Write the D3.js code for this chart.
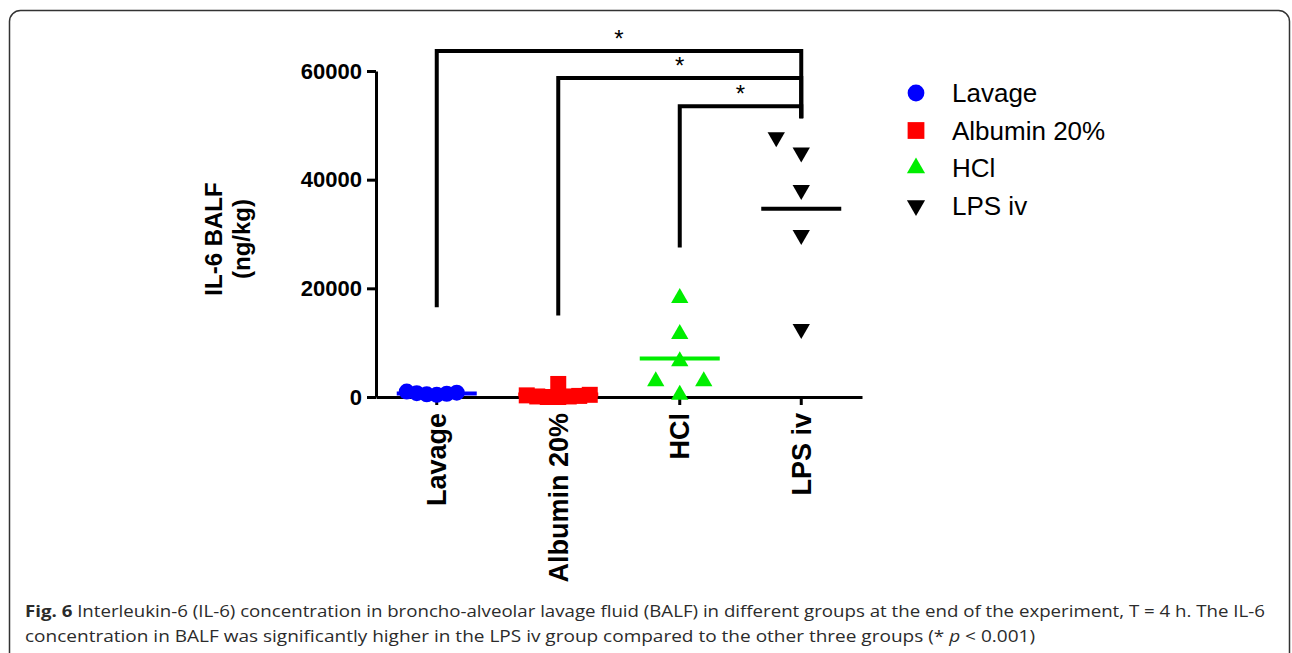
<!DOCTYPE html>
<html>
<head>
<meta charset="utf-8">
<script src="https://cdn.jsdelivr.net/npm/d3@7"></script>
<style>
  body { margin: 0; background: #fff; }
  svg { display: block; }
</style>
</head>
<body>
<div id="chart"></div>
<script>
// groups and individual values (IL-6 in BALF, ng/kg)
const groups = ["Lavage", "Albumin 20%", "HCl", "LPS iv"];
const lavageVals = [600, 800, 400, 1000, 500, 700];
const albuminVals = [0, 100, 300, 200, 0, 400, 100, 2400];
const hclVals = [400, 2900, 2900, 6600, 11600, 18200];
const lpsVals = [12500, 29800, 38100, 45000, 47800];
const yTicks = [0, 20000, 40000, 60000];

// significance brackets (all against LPS iv)
const bracketFrom = ["Lavage", "Albumin 20%", "HCl"];
const bracketTop = [63700, 58700, 53500];
const bracketLeftEnd = [16500, 15000, 27500];
const bracketRightEnd = 51300;
const bracketLabel = ["*", "*", "*"];

const captionLine1 = " Interleukin-6 (IL-6) concentration in broncho-alveolar lavage fluid (BALF) in different groups at the end of the experiment, T = 4 h. The IL-6";
const captionLine2a = "concentration in BALF was significantly higher in the LPS iv group compared to the other three groups (* ";
const captionLine2b = " < 0.001)";

const values = [lavageVals, albuminVals, hclVals, lpsVals];

// marker styling per group
const styles = [
  {color: "#0000ff", type: d3.symbolCircle, size: 201, rot: 0, step: 10, minDy: 16},
  {color: "#ff0000", type: d3.symbolSquare, size: 256, rot: 0, step: 10.5, minDy: 10},
  {color: "#00ee00", type: d3.symbolTriangle, size: 130, rot: 0, step: 24, minDy: 17},
  {color: "#000000", type: d3.symbolTriangle, size: 130, rot: 180, step: 25, minDy: 17}
];

const W = 1292, H = 653;
const svg = d3.select("#chart").append("svg")
  .attr("width", W)
  .attr("height", H)
  .style("font-family", "'Liberation Sans', Arial, sans-serif");

// frame
svg.append("rect")
  .attr("x", 9.5).attr("y", 10.5)
  .attr("width", 1280).attr("height", 700)
  .attr("rx", 11)
  .attr("fill", "none")
  .attr("stroke", "#333")
  .attr("stroke-width", 1.5);

const x = d3.scaleBand().domain(groups).range([376, 862]);
const y = d3.scaleLinear().domain([0, 60000]).range([397, 71]);
const cx = g => x(g) + x.bandwidth() / 2;

// y axis
const yAxis = svg.append("g")
  .attr("transform", "translate(376,0)")
  .call(d3.axisLeft(y).tickValues(yTicks).tickFormat(d3.format("d")).tickSize(9).tickSizeOuter(0).tickPadding(5));
yAxis.select(".domain").attr("stroke", "#000").attr("stroke-width", 3);
yAxis.selectAll(".tick line").attr("stroke", "#000").attr("stroke-width", 3);
yAxis.selectAll("text")
  .style("font-size", "22px")
  .style("font-weight", "bold")
  .attr("fill", "#000");

// x axis
const xAxis = svg.append("g")
  .attr("transform", "translate(0,397)")
  .call(d3.axisBottom(x).tickSize(8).tickSizeOuter(0));
xAxis.select(".domain").attr("stroke", "#000").attr("stroke-width", 3);
xAxis.selectAll(".tick line").attr("stroke", "#000").attr("stroke-width", 3);
xAxis.selectAll("text")
  .attr("transform", "rotate(-90)")
  .attr("x", -16)
  .attr("y", 0)
  .attr("dy", "0.36em")
  .attr("text-anchor", "end")
  .style("font-size", "27px")
  .style("font-weight", "bold")
  .attr("fill", "#000");

// y label
const yl = svg.append("text")
  .attr("transform", "translate(222,239) rotate(-90)")
  .attr("text-anchor", "middle")
  .style("font-size", "24px")
  .style("font-weight", "bold");
yl.append("tspan").attr("x", 0).attr("y", 0).text("IL-6 BALF");
yl.append("tspan").attr("x", 0).attr("y", 28).text("(ng/kg)");

// spread points sideways when they would overlap
function dodge(vals, st) {
  const order = d3.range(vals.length).sort((a, b) => vals[a] - vals[b]);
  const slots = [0, -1, 1, -2, 2, -3, 3, -4, 4];
  const placed = [];
  const off = new Array(vals.length);
  order.forEach(i => {
    const py = y(vals[i]);
    let k = slots.find(s => !placed.some(p => p.s === s && Math.abs(p.py - py) < st.minDy));
    if (k === undefined) k = 0;
    placed.push({s: k, py});
    off[i] = k * st.step;
  });
  return off;
}

groups.forEach((g, gi) => {
  const st = styles[gi];
  const vals = values[gi];
  const off = dodge(vals, st);
  const sym = d3.symbol().type(st.type).size(st.size);

  svg.append("g").selectAll("path")
    .data(vals)
    .enter()
    .append("path")
    .attr("d", sym)
    .attr("transform", (d, i) => `translate(${cx(g) + off[i]},${y(d)}) rotate(${st.rot})`)
    .attr("fill", st.color);

  // mean line
  const m = d3.mean(vals);
  svg.append("line")
    .attr("x1", cx(g) - 40).attr("x2", cx(g) + 40)
    .attr("y1", y(m)).attr("y2", y(m))
    .attr("stroke", st.color)
    .attr("stroke-width", 4);
});

// brackets
bracketFrom.forEach((g, i) => {
  const x1 = cx(g), x2 = cx("LPS iv");
  svg.append("path")
    .attr("d", `M${x1},${y(bracketLeftEnd[i])} V${y(bracketTop[i])} H${x2} V${y(bracketRightEnd)}`)
    .attr("fill", "none")
    .attr("stroke", "#000")
    .attr("stroke-width", 4);
  svg.append("text")
    .attr("x", (x1 + x2) / 2)
    .attr("y", y(bracketTop[i]) - 4)
    .attr("text-anchor", "middle")
    .style("font-size", "24px")
    .text(bracketLabel[i]);
});

// legend
const leg = svg.append("g");
groups.forEach((g, gi) => {
  const st = styles[gi];
  const ly = 93 + gi * 37.5;
  leg.append("path")
    .attr("d", d3.symbol().type(st.type).size(st.size * 1.1))
    .attr("transform", `translate(916,${ly}) rotate(${st.rot})`)
    .attr("fill", st.color);
  leg.append("text")
    .attr("x", 952)
    .attr("y", ly)
    .attr("dy", "0.35em")
    .style("font-size", "26px")
    .text(g);
});

// caption
const cap = svg.append("g")
  .style("font-family", "'Open Sans', 'Noto Sans', sans-serif")
  .style("font-size", "16px")
  .attr("fill", "#2b2b2b");
const c1 = cap.append("text").attr("x", 25).attr("y", 617)
  .attr("textLength", 1240).attr("lengthAdjust", "spacingAndGlyphs");
c1.append("tspan").style("font-weight", "bold").text("Fig. 6");
c1.append("tspan").text(captionLine1);
const c2 = cap.append("text").attr("x", 25).attr("y", 642)
  .attr("textLength", 1010).attr("lengthAdjust", "spacingAndGlyphs");
c2.append("tspan").text(captionLine2a);
c2.append("tspan").style("font-style", "italic").text("p");
c2.append("tspan").text(captionLine2b);
</script>
</body>
</html>
